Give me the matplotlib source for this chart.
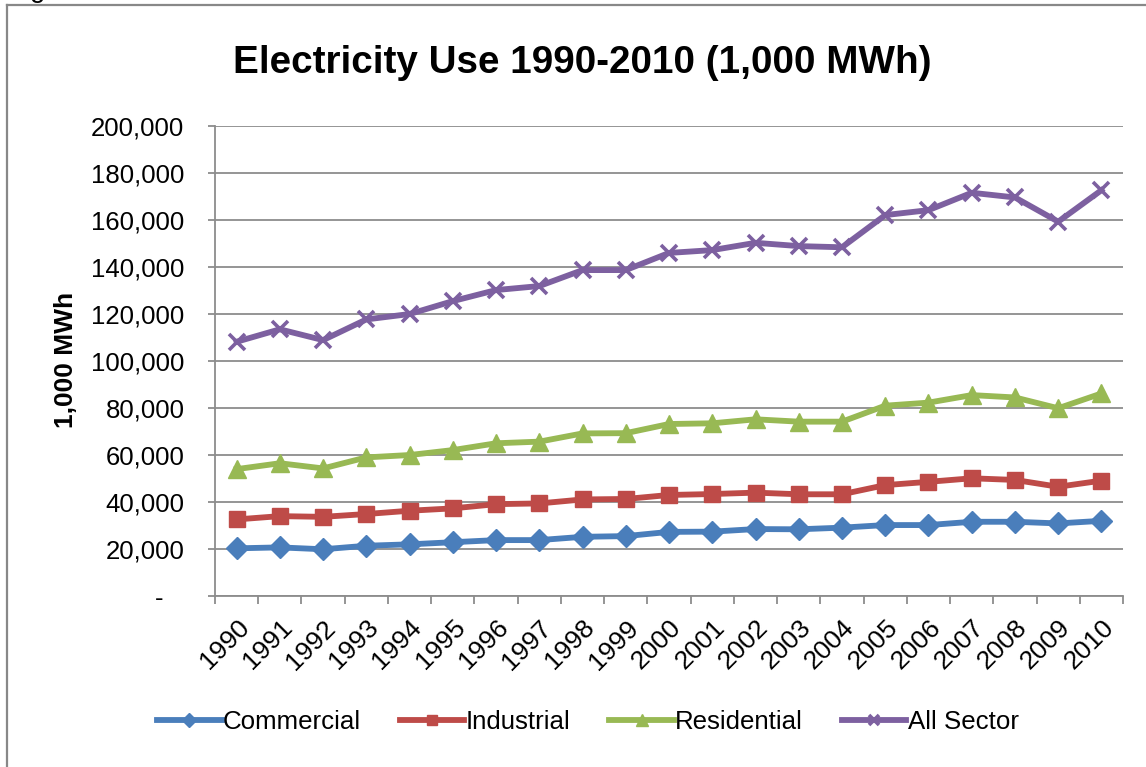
import matplotlib
matplotlib.use("Agg")
import matplotlib.pyplot as plt
from matplotlib.lines import Line2D
from matplotlib.ticker import FuncFormatter, FixedLocator

plt.rcParams['font.family'] = ['Liberation Sans', 'DejaVu Sans']

years = [str(y) for y in range(1990, 2011)]

commercial = [20300, 20700, 19900, 21400, 22000, 22900, 23800, 23800, 25200, 25500,
              27300, 27400, 28500, 28400, 29100, 30200, 30200, 31600, 31600, 30900, 32000]
industrial = [32600, 34000, 33700, 34900, 36300, 37300, 39100, 39400, 41100, 41300,
              43000, 43400, 44000, 43300, 43300, 47200, 48600, 50100, 49400, 46500, 49100]
residential = [54000, 56500, 54300, 59000, 60000, 62100, 65000, 65700, 69200, 69300,
               73200, 73500, 75200, 74200, 74200, 81000, 82300, 85500, 84500, 79900, 86200]
all_sector = [108200, 113500, 108900, 117700, 120000, 125500, 130200, 131900, 138700, 138700,
              146000, 147200, 150300, 148900, 148400, 162100, 164200, 171600, 169600, 159300, 172700]

series = [
    ("Commercial", commercial, "#4A7EBB", "D", 11),
    ("Industrial", industrial, "#BE4B48", "s", 11.5),
    ("Residential", residential, "#98B954", "^", 12.5),
    ("All Sector", all_sector, "#7D60A0", "x", 11),
]

fig = plt.figure(figsize=(11.46, 7.67), dpi=100)
ax = fig.add_axes([0.1876, 0.2229, 0.7924, 0.6128])

x = list(range(len(years)))
for name, vals, col, mk, ms in series:
    ax.plot(x, vals, color=col, lw=4.2, marker=mk, markersize=ms,
            markerfacecolor=col, markeredgecolor=col,
            markeredgewidth=2.6 if mk == "x" else 1, label=name)

ax.set_xlim(-0.5, len(years) - 0.5)
ax.set_ylim(0, 200000)
ax.set_yticks(range(0, 200001, 20000))
ax.yaxis.set_major_formatter(FuncFormatter(lambda v, p: "-   " if v == 0 else f"{int(v):,}"))
ax.grid(axis='y', color='#8c8c8c', lw=1.3)
ax.set_axisbelow(True)

ax.set_xticks(x)
ax.set_xticklabels(years, rotation=45, ha='right', rotation_mode='anchor')
ax.xaxis.set_minor_locator(FixedLocator([i - 0.5 for i in range(len(years) + 1)]))
ax.tick_params(axis='x', which='major', length=0, pad=14, labelsize=19)
ax.tick_params(axis='x', which='minor', length=6, width=1.3, color='#8c8c8c')
ax.tick_params(axis='y', length=5, width=1.3, color='#8c8c8c', pad=17, labelsize=18.5)

for s in ['top', 'right']:
    ax.spines[s].set_visible(False)
for s in ['left', 'bottom']:
    ax.spines[s].set_color('#8c8c8c')
    ax.spines[s].set_linewidth(1.3)

fig.text(0.508, 0.905, "Electricity Use 1990-2010 (1,000 MWh)", ha='center', va='baseline',
         fontsize=27.8, fontweight='bold')
fig.text(0.0576, 0.531, "1,000 MWh", rotation=90, ha='center', va='center',
         fontsize=19, fontweight='bold')

fig.legend(loc='center', bbox_to_anchor=(0.513, 0.059), ncol=4, frameon=False,
           fontsize=18.6, handlelength=2.5, handletextpad=0.05, columnspacing=1.5,
           markerscale=0.65)

# outer chart frame and the stray caption letter above it
fig.add_artist(Line2D([7 / 1146, 1], [1 - 5 / 767, 1 - 5 / 767], color='#888888', lw=1.6,
                      transform=fig.transFigure))
fig.add_artist(Line2D([7 / 1146, 7 / 1146], [0, 1 - 5 / 767], color='#888888', lw=1.6,
                      transform=fig.transFigure))
fig.text(0.026, 1.004, "g", fontsize=20, va='baseline', ha='left')

fig.savefig("out.png", dpi=100)
